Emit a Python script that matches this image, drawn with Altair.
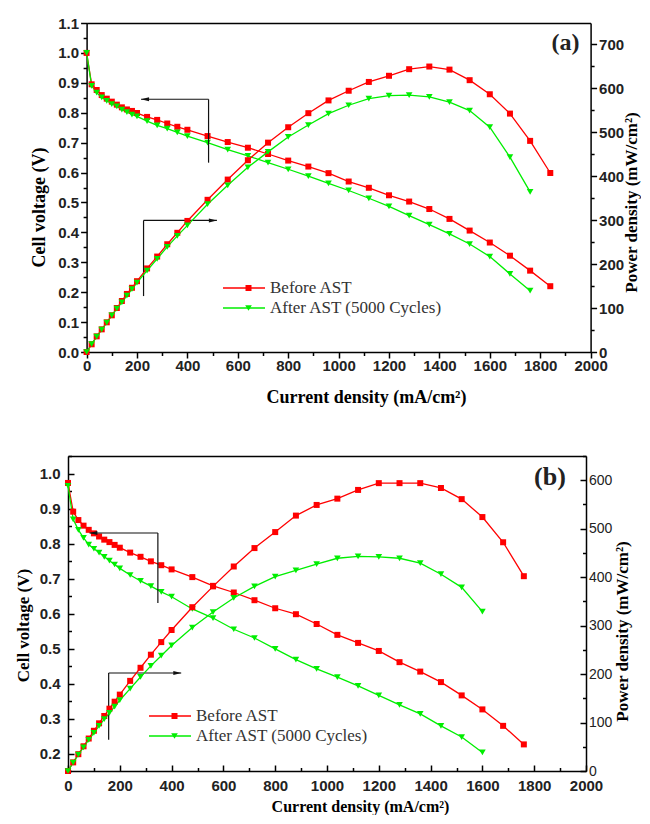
import altair as alt
import pandas as pd

SERIES = ["Before AST", "After AST (5000 Cycles)"]
KEYS = ["before", "after"]
COLORS = ["#ff0000", "#00ee00"]
SHAPES = ["square", "triangle-down"]
MARKER_SIZES = [36, 44]

# ---------------- panel (a) ----------------
a_cur_before = [0, 20, 40, 60, 80, 100, 120, 140, 160, 180, 200, 240, 280, 320, 360, 400,
                480, 560, 640, 720, 800, 880, 960, 1040, 1120, 1200, 1280, 1360, 1440, 1520,
                1600, 1680, 1760, 1840]
a_volt_before = [1.000, 0.895, 0.876, 0.859, 0.847, 0.837, 0.827, 0.818, 0.811, 0.806, 0.799,
                 0.786, 0.776, 0.764, 0.753, 0.743, 0.722, 0.702, 0.683, 0.662, 0.640, 0.620,
                 0.598, 0.570, 0.549, 0.524, 0.503, 0.478, 0.445, 0.406, 0.366, 0.322, 0.272, 0.220]
a_pow_before = [0, 17.5, 35.6, 51.5, 67.5, 83.4, 100, 116, 132, 146, 161, 190, 217, 245, 271, 298,
                346, 392, 436, 476, 511, 543, 572, 594, 614, 628, 643, 649, 642, 618, 586, 542, 480, 407]
a_cur_after = [0, 20, 40, 60, 80, 100, 120, 140, 160, 180, 200, 240, 280, 320, 360, 400,
               480, 560, 640, 720, 800, 880, 960, 1040, 1120, 1200, 1280, 1360, 1440, 1520,
               1600, 1680, 1760]
a_volt_after = [1.000, 0.890, 0.867, 0.851, 0.840, 0.829, 0.821, 0.810, 0.802, 0.794, 0.788,
                0.772, 0.758, 0.747, 0.734, 0.722, 0.700, 0.677, 0.656, 0.633, 0.611, 0.588,
                0.564, 0.540, 0.514, 0.487, 0.456, 0.426, 0.395, 0.361, 0.319, 0.261, 0.205]
a_pow_after = [0, 17.8, 34.7, 51, 67, 83, 98.5, 113, 128, 143, 158, 185, 212, 239, 264, 288,
               336, 379, 420, 455, 489, 516, 542, 561, 576, 583, 584, 580, 568, 549, 511, 443, 364]

# ---------------- panel (b) ----------------
b_cur_before = [0, 20, 40, 60, 80, 100, 120, 140, 160, 180, 200, 240, 280, 320, 360, 400,
                480, 560, 640, 720, 800, 880, 960, 1040, 1120, 1200, 1280, 1360, 1440, 1520,
                1600, 1680, 1760]
b_volt_before = [0.973, 0.891, 0.867, 0.851, 0.839, 0.829, 0.820, 0.811, 0.804, 0.796, 0.788,
                 0.774, 0.762, 0.749, 0.738, 0.726, 0.704, 0.679, 0.660, 0.638, 0.615, 0.598,
                 0.570, 0.539, 0.516, 0.493, 0.461, 0.434, 0.404, 0.366, 0.326, 0.279, 0.226]
b_pow_before = [0, 17.8, 34.7, 51, 67, 83, 98.4, 113.5, 128.6, 143, 157.6, 186, 213, 240, 266, 291,
                338, 381, 422, 460, 493, 527, 549, 562, 580, 594, 594, 594, 584, 561, 524, 472, 402]
b_cur_after = [0, 20, 40, 60, 80, 100, 120, 140, 160, 180, 200, 240, 280, 320, 360, 400,
               480, 560, 640, 720, 800, 880, 960, 1040, 1120, 1200, 1280, 1360, 1440, 1520, 1600]
b_volt_after = [0.965, 0.869, 0.839, 0.816, 0.797, 0.785, 0.774, 0.762, 0.751, 0.740, 0.729,
                0.710, 0.693, 0.678, 0.662, 0.648, 0.613, 0.587, 0.555, 0.530, 0.499, 0.468,
                0.442, 0.418, 0.393, 0.366, 0.339, 0.313, 0.279, 0.247, 0.203]
b_pow_after = [0, 17.4, 33.6, 49, 64, 78.5, 93, 107, 120, 133, 146, 170, 194, 217, 238, 259,
               296, 328, 357, 381, 401, 414, 427, 439, 443, 442, 439, 429, 406, 379, 329]

# ---------------- ticks ----------------
x_ticks = [0, 100, 200, 300, 400, 500, 600, 700, 800, 900, 1000, 1100, 1200, 1300, 1400, 1500,
           1600, 1700, 1800, 1900, 2000]
a_volt_ticks = [0.0, 0.05, 0.1, 0.15, 0.2, 0.25, 0.3, 0.35, 0.4, 0.45, 0.5, 0.55, 0.6, 0.65, 0.7,
                0.75, 0.8, 0.85, 0.9, 0.95, 1.0, 1.05, 1.1]
a_pow_ticks = [0, 50, 100, 150, 200, 250, 300, 350, 400, 450, 500, 550, 600, 650, 700]
b_volt_ticks = [0.15, 0.2, 0.25, 0.3, 0.35, 0.4, 0.45, 0.5, 0.55, 0.6, 0.65, 0.7, 0.75, 0.8,
                0.85, 0.9, 0.95, 1.0, 1.05]
b_pow_ticks = [0, 50, 100, 150, 200, 250, 300, 350, 400, 450, 500, 550, 600, 650]

# ---------------- annotations (data units) ----------------
a_seg_x = [216, 484, 226, 226]
a_seg_x2 = [484, 484, 226, 517]
a_seg_y = [0.845, 0.633, 0.187, 0.44]
a_seg_y2 = [0.845, 0.845, 0.44, 0.44]
a_arrow_left = (232, 0.845)
a_arrow_right = (501, 0.44)
a_label = ("(a)", 1900, 1.032)

b_seg_x = [83, 347, 157, 157]
b_seg_x2 = [347, 347, 157, 437]
b_seg_y = [0.83, 0.63, 0.239, 0.43]
b_seg_y2 = [0.83, 0.83, 0.43, 0.43]
b_arrow_left = (98, 0.83)
b_arrow_right = (422, 0.43)
b_label = ("(b)", 1861, 0.991)

X_MAJOR = "abs(datum.value/200 - round(datum.value/200)) < 1e-6"
V_MAJOR = "abs(datum.value*10 - round(datum.value*10)) < 1e-6"
P_MAJOR = "abs(datum.value/100 - round(datum.value/100)) < 1e-6"


def cond(test, a, b):
    return {"condition": {"test": test, "value": a}, "value": b}


def long_df(cb, vb, pb, ca, va, pa):
    rows = []
    for c, v, p in zip(cb, vb, pb):
        rows.append({"current": c, "volt": v, "power": p, "series": SERIES[0], "key": KEYS[0]})
    for c, v, p in zip(ca, va, pa):
        rows.append({"current": c, "volt": v, "power": p, "series": SERIES[1], "key": KEYS[1]})
    return pd.DataFrame(rows)


BASE = dict(grid=False, domainColor="black", domainWidth=1.5, tickColor="black", tickWidth=1.5,
            labelOverlap=False, labelFlush=False, titleFont="Liberation Serif",
            titleFontWeight="bold", titleColor="black", labelFont="Liberation Sans")

LEFT_ARROW = "M-1,0L1,-0.5L1,0.5Z"
RIGHT_ARROW = "M1,0L-1,-0.5L-1,0.5Z"


def build_panel(df, cfg):
    off = cfg["xoff"]
    xs = alt.Scale(domain=[0, 2000], nice=False, zero=False, range=[off, cfg["w"]])
    vs = alt.Scale(domain=cfg["vdom"], nice=False, zero=False)
    ps = alt.Scale(domain=cfg["pdom"], nice=False, zero=False)
    t_maj, t_min = cfg["tick"]

    xaxis = alt.Axis(values=x_ticks, format="d",
                     labelExpr=f"{X_MAJOR} ? datum.label : ''",
                     tickSize=cond(X_MAJOR, t_maj, t_min),
                     labelPadding=cfg["x_lp"], labelFontSize=15, labelFontWeight="bold",
                     labelColor="#222", title="Current density (mA/cm²)",
                     titleFontSize=cfg["x_tfs"], titlePadding=cfg["x_tp"], titleX=cfg["x_tx"],
                     **BASE)
    topaxis = alt.Axis(orient="top", ticks=False, labels=False, domain=True, grid=False,
                       domainColor="black", domainWidth=1.5, title=None)
    vaxis = alt.Axis(values=cfg["vticks"], format=".1f", offset=-off,
                     labelExpr=f"{V_MAJOR} ? datum.label : ''",
                     tickSize=cond(V_MAJOR, t_maj, t_min),
                     labelPadding=cfg["v_lp"], labelFontSize=15, labelFontWeight="bold",
                     labelColor="#222", title="Cell voltage (V)",
                     titleFontSize=cfg["v_tfs"], titlePadding=cfg["v_tp"], titleY=cfg["v_ty"],
                     **BASE)
    paxis = alt.Axis(orient="right", values=cfg["pticks"], format="d",
                     labelExpr=f"{P_MAJOR} ? datum.label : ''",
                     tickSize=cond(P_MAJOR, t_maj, t_min),
                     labelPadding=cfg["p_lp"], labelFontSize=cfg["p_lfs"],
                     labelFontWeight=cfg["p_lfw"], labelColor="#222",
                     title="Power density (mW/cm²)", titleFontSize=cfg["p_tfs"],
                     titlePadding=cfg["p_tp"], titleY=cfg["p_ty"], titleAngle=270,
                     titleBaseline="top", **BASE)

    X = lambda f: alt.X(f, type="quantitative", scale=xs, axis=xaxis)
    XT = lambda f: alt.X(f, type="quantitative", scale=xs, axis=topaxis)
    YV = lambda f: alt.Y(f, type="quantitative", scale=vs, axis=vaxis)
    YP = lambda f: alt.Y(f, type="quantitative", scale=ps, axis=paxis)

    legA = alt.Legend(orient="none", legendX=cfg["legX"], legendY=cfg["legY"], title=None,
                      symbolType="stroke", symbolSize=1764, symbolStrokeWidth=1.4,
                      labelFont="Liberation Serif", labelFontSize=17, labelColor="#333",
                      labelOffset=4, labelLimit=400, clipHeight=20, rowPadding=0, padding=0)
    legB = alt.Legend(orient="none", legendX=cfg["legX"] + 18, legendY=cfg["legY"], title=None,
                      labelExpr="''", clipHeight=20, rowPadding=0, padding=0)

    stroke = alt.Stroke("series:N", scale=alt.Scale(domain=SERIES, range=COLORS), legend=legA)
    fill = alt.Fill("key:N", scale=alt.Scale(domain=KEYS, range=COLORS), legend=legB)
    shape = alt.Shape("key:N", scale=alt.Scale(domain=KEYS, range=SHAPES), legend=legB)
    size = alt.Size("key:N", scale=alt.Scale(domain=KEYS, range=MARKER_SIZES), legend=legB)

    base = alt.Chart(df)
    lines_v = base.mark_line(strokeWidth=1.3).encode(x=X("current"), y=YV("volt"), stroke=stroke)
    pts_v = base.mark_point(filled=True, opacity=1).encode(
        x=X("current"), y=YV("volt"), fill=fill, shape=shape, size=size)
    lines_p = base.mark_line(strokeWidth=1.3).encode(x=XT("current"), y=YP("power"), stroke=stroke)
    pts_p = base.mark_point(filled=True, opacity=1).encode(
        x=XT("current"), y=YP("power"), fill=fill, shape=shape, size=size)

    seg = pd.DataFrame({"sx": cfg["seg"][0], "sx2": cfg["seg"][1],
                        "sy": cfg["seg"][2], "sy2": cfg["seg"][3]})
    rules = alt.Chart(seg).mark_rule(color="#111", strokeWidth=1.2).encode(
        x=X("sx"), x2="sx2", y=YV("sy"), y2="sy2")
    al = pd.DataFrame({"ax": [cfg["arrL"][0]], "ay": [cfg["arrL"][1]]})
    ar = pd.DataFrame({"ax": [cfg["arrR"][0]], "ay": [cfg["arrR"][1]]})
    arrow_l = alt.Chart(al).mark_point(shape=LEFT_ARROW, filled=True, size=64, color="#111",
                                       opacity=1).encode(x=X("ax"), y=YV("ay"))
    arrow_r = alt.Chart(ar).mark_point(shape=RIGHT_ARROW, filled=True, size=64, color="#111",
                                       opacity=1).encode(x=X("ax"), y=YV("ay"))
    lab = pd.DataFrame({"t": [cfg["label"][0]], "tx": [cfg["label"][1]], "ty": [cfg["label"][2]]})
    label = alt.Chart(lab).mark_text(font="Liberation Serif", fontWeight="bold",
                                     fontSize=cfg["label_fs"], color="#222", align="center",
                                     baseline="middle").encode(x=X("tx"), y=YV("ty"), text="t:N")
    left = alt.layer(lines_v, pts_v, rules, arrow_l, arrow_r, label)
    right = alt.layer(lines_p, pts_p)
    return alt.layer(left, right).resolve_scale(y="independent").resolve_axis(
        x="independent").properties(width=cfg["w"], height=cfg["h"])


df_a = long_df(a_cur_before, a_volt_before, a_pow_before, a_cur_after, a_volt_after, a_pow_after)
df_b = long_df(b_cur_before, b_volt_before, b_pow_before, b_cur_after, b_volt_after, b_pow_after)

cfg_a = dict(xoff=18.6, vdom=[0, 1.1], pdom=[0, 748], tick=(6, 3.5), vticks=a_volt_ticks,
             pticks=a_pow_ticks,
             x_lp=0.5, x_tfs=18, x_tp=15, x_tx=298,
             v_lp=2, v_tfs=18, v_tp=9, v_ty=184,
             p_lp=2, p_lfs=15, p_lfw="bold", p_tfs=17, p_tp=0, p_ty=179,
             legX=154, legY=255,
             seg=(a_seg_x, a_seg_x2, a_seg_y, a_seg_y2), arrL=a_arrow_left, arrR=a_arrow_right,
             label=a_label, label_fs=24, w=522.6, h=329)
cfg_b = dict(xoff=0, vdom=[0.15, 1.05], pdom=[0, 650], tick=(-6, -3.5), vticks=b_volt_ticks,
             pticks=b_pow_ticks,
             x_lp=13.5, x_tfs=16, x_tp=2, x_tx=292,
             v_lp=14, v_tfs=17, v_tp=7, v_ty=169,
             p_lp=8.5, p_lfs=14, p_lfw="normal", p_tfs=17, p_tp=3, p_ty=175,
             legX=80, legY=250,
             seg=(b_seg_x, b_seg_x2, b_seg_y, b_seg_y2), arrL=b_arrow_left, arrR=b_arrow_right,
             label=b_label, label_fs=26, w=518, h=315)

panel_a = build_panel(df_a, cfg_a)
panel_b = build_panel(df_b, cfg_b)

chart = alt.vconcat(panel_a, panel_b, spacing=41).resolve_scale(
    stroke="independent", fill="independent", shape="independent", size="independent"
).resolve_legend(
    stroke="independent", fill="independent", shape="independent", size="independent"
).properties(
    padding={"left": 5, "top": 7, "right": 0, "bottom": 0}, background="white"
).configure_view(stroke="transparent").configure_legend(
    labelFont="Liberation Serif", labelFontSize=17, labelLimit=400)

chart.save("out.html", embed_options={"renderer": "svg", "actions": False})
